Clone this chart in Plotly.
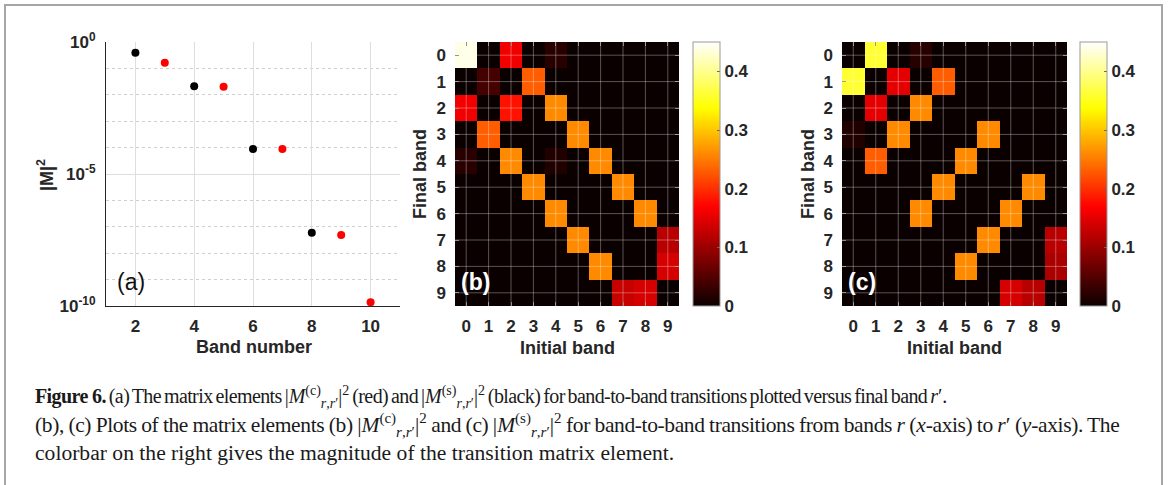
import plotly.graph_objects as go

W, H = 1168, 485

# ---- panel (a): |M|^2 versus final band ----
band_black = [2, 4, 6, 8]
m2_black = [0.39, 0.021, 8.9e-5, 5.9e-8]
band_red = [3, 5, 7, 9, 10]
m2_red = [0.165, 0.020, 8.9e-5, 4.9e-8, 1.4e-10]

# ---- panels (b), (c): transition matrices (rows = final band, cols = initial band) ----
bands = list(range(10))
m2_c = [
    [0.44, 0, 0.16, 0, 0.02, 0, 0, 0, 0, 0],
    [0, 0.04, 0, 0.23, 0, 0, 0, 0, 0, 0],
    [0.16, 0, 0.18, 0, 0.26, 0, 0, 0, 0, 0],
    [0, 0.23, 0, 0, 0, 0.26, 0, 0, 0, 0],
    [0.02, 0, 0.26, 0, 0.015, 0, 0.26, 0, 0, 0],
    [0, 0, 0, 0.26, 0, 0, 0, 0.26, 0, 0],
    [0, 0, 0, 0, 0.26, 0, 0, 0, 0.26, 0],
    [0, 0, 0, 0, 0, 0.26, 0, 0, 0, 0.12],
    [0, 0, 0, 0, 0, 0, 0.26, 0, 0, 0.14],
    [0, 0, 0, 0, 0, 0, 0, 0.13, 0.14, 0],
]
m2_s = [
    [0, 0.36, 0, 0.02, 0, 0, 0, 0, 0, 0],
    [0.36, 0, 0.15, 0, 0.23, 0, 0, 0, 0, 0],
    [0, 0.15, 0, 0.26, 0, 0, 0, 0, 0, 0],
    [0.015, 0, 0.26, 0, 0, 0, 0.26, 0, 0, 0],
    [0, 0.23, 0, 0, 0, 0.26, 0, 0, 0, 0],
    [0, 0, 0, 0, 0.26, 0, 0, 0, 0.26, 0],
    [0, 0, 0, 0.26, 0, 0, 0, 0.26, 0, 0],
    [0, 0, 0, 0, 0, 0, 0.26, 0, 0, 0.12],
    [0, 0, 0, 0, 0, 0.26, 0, 0, 0, 0.11],
    [0, 0, 0, 0, 0, 0, 0, 0.14, 0.12, 0],
]
cbar_ticks = [0, 0.1, 0.2, 0.3, 0.4]
cbar_labels = ["0", "0.1", "0.2", "0.3", "0.4"]

# MATLAB-style "hot" map
hot = [[0.0, "rgb(11,0,0)"], [0.375, "rgb(255,0,0)"],
       [0.75, "rgb(255,255,0)"], [1.0, "rgb(255,255,255)"]]

SANS = "Liberation Sans, Arial, sans-serif"
SERIF = "Liberation Serif, Times New Roman, serif"
INK = "#262626"


def px(x):
    return x / W


def py(y):
    return 1 - y / H


TOP, BOT = 42, 306
fig = go.Figure()

fig.add_trace(go.Scatter(x=band_black, y=m2_black, mode="markers",
                         marker=dict(color="black", size=8), xaxis="x", yaxis="y",
                         showlegend=False))
fig.add_trace(go.Scatter(x=band_red, y=m2_red, mode="markers",
                         marker=dict(color="#ff0000", size=8), xaxis="x", yaxis="y",
                         showlegend=False))

panels = [("x2", "y2", m2_c, 455, 679, 693, "(b)", 420, 567),
          ("x3", "y3", m2_s, 842, 1067, 1080, "(c)", 808, 954)]

tickfont = dict(family=SANS, size=17, color=INK, weight="bold")

for xa, ya, z, x0, x1, cbx, tag, ylab_x, xlab_x in panels:
    fig.add_trace(go.Heatmap(
        x=bands, y=bands, z=z, xaxis=xa, yaxis=ya,
        colorscale=hot, zmin=0, zmax=0.45,
        colorbar=dict(
            x=px(cbx), xanchor="left", xpad=0, y=py((TOP + BOT) / 2), yanchor="middle",
            ypad=0, len=(BOT - TOP) / H, lenmode="fraction", thickness=27,
            thicknessmode="pixels", outlinewidth=1, outlinecolor="#9a9a9a",
            tickvals=cbar_ticks, ticktext=cbar_labels, ticks="inside", ticklen=3,
            tickcolor="#666", tickfont=tickfont,
        ),
        hoverinfo="skip",
    ))

layout = dict(
    width=W, height=H, margin=dict(l=0, r=0, t=0, b=0, autoexpand=False),
    paper_bgcolor="white", plot_bgcolor="white",
    font=dict(family=SANS, color=INK),
    xaxis=dict(domain=[px(106), px(400)], range=[1, 11], tickvals=[2, 4, 6, 8, 10],
               showgrid=True, gridcolor="#dedede", gridwidth=1, zeroline=False,
               showline=True, linecolor=INK, linewidth=1, ticks="",
               tickfont=tickfont, ticklabelstandoff=5),
    yaxis=dict(domain=[py(BOT), py(TOP)], type="log", range=[-10, 0],
               tickvals=[1e-10, 1e-5, 1],
               ticktext=["10<sup>-10</sup>", "10<sup>-5</sup>", "10<sup>0</sup>"],
               showgrid=True, gridcolor="#dedede", gridwidth=1, zeroline=False,
               showline=True, linecolor=INK, linewidth=1, ticks="",
               tickfont=tickfont, ticklabelstandoff=6,
               minor=dict(tickvals=[10 ** (-k) for k in range(1, 10) if k != 5],
                          showgrid=True, gridcolor="#cfcfcf", griddash="dot",
                          gridwidth=1, ticks="")),
)
for i, (xa, ya, z, x0, x1, cbx, tag, ylab_x, xlab_x) in enumerate(panels):
    n = xa[1:]
    layout["xaxis" + n] = dict(domain=[px(x0), px(x1)], anchor=ya, range=[-0.5, 9.5],
                               tickvals=bands, showgrid=False, zeroline=False,
                               ticks="inside", ticklen=4, tickcolor="#777",
                               mirror="ticks", layer="above traces",
                               tickfont=tickfont, ticklabelstandoff=8)
    layout["yaxis" + n] = dict(domain=[py(BOT), py(TOP)], anchor=xa, range=[9.5, -0.5],
                               tickvals=bands, showgrid=False, zeroline=False,
                               ticks="inside", ticklen=4, tickcolor="#777",
                               mirror="ticks", layer="above traces",
                               tickfont=tickfont, ticklabelstandoff=8)
fig.update_layout(**layout)

shapes = []
# light grid over the heatmaps, through the cell centres
for xa, ya, *_ in panels:
    for k in bands:
        shapes.append(dict(type="line", xref=xa, yref=ya, x0=k, x1=k, y0=-0.5, y1=9.5,
                           line=dict(color="rgba(255,255,255,0.32)", width=1),
                           layer="above"))
        shapes.append(dict(type="line", xref=xa, yref=ya, x0=-0.5, x1=9.5, y0=k, y1=k,
                           line=dict(color="rgba(255,255,255,0.32)", width=1),
                           layer="above"))
# frame around the whole figure
shapes.append(dict(type="rect", xref="paper", yref="paper", x0=px(5), x1=px(1162),
                   y0=-0.02, y1=py(5), line=dict(color="#a6a6a6", width=2),
                   layer="below"))
fig.update_layout(shapes=shapes)

title_font = dict(family=SANS, size=18, color=INK, weight="bold")
ann = [
    dict(text="|M|<sup>2</sup>", x=px(45), y=py(175), textangle=-90, font=title_font),
    dict(text="Band number", x=px(254), y=py(347), font=title_font),
    dict(text="(a)", x=px(131), y=py(282), font=dict(family=SANS, size=23, color="#111")),
]
for xa, ya, z, x0, x1, cbx, tag, ylab_x, xlab_x in panels:
    ann.append(dict(text="Final band", x=px(ylab_x), y=py(174), textangle=-90,
                    font=title_font))
    ann.append(dict(text="Initial band", x=px(xlab_x), y=py(348), font=title_font))
    ann.append(dict(text=tag, x=px(x0 + 20), y=py(282), xanchor="center",
                    font=dict(family=SANS, size=23, color="white", weight="bold")))


def tight(s, ls, ws=0.0):
    """Plain caption text set with tighter letter / word spacing."""
    return f"<span style='letter-spacing:{ls}px;word-spacing:{ws}px'>{s}</span>"


M_c = "|<i>M</i><sup>(c)</sup><sub><i>r</i>,<i>r</i>′</sub>|<sup>2</sup>"
M_s = "|<i>M</i><sup>(s)</sup><sub><i>r</i>,<i>r</i>′</sub>|<sup>2</sup>"
l1, w1 = -0.6, -1.5
l2, w2 = -0.38, -0.5
caption = [
    ("<b>" + tight("Figure 6.", l1) + "</b>"
     + tight(" (a) The matrix elements ", l1, w1) + M_c
     + tight(" (red) and ", l1, w1) + M_s
     + tight(" (black) for band-to-band transitions plotted versus final band ", l1, w1)
     + "<i>r</i>′."),
    (tight("(b), (c) Plots of the matrix elements (b) ", l2, w2) + M_c
     + tight(" and (c) ", l2, w2) + M_s
     + tight(" for band-to-band transitions from bands ", l2, w2) + "<i>r</i>"
     + tight(" (", l2, w2) + "<i>x</i>" + tight("-axis) to ", l2, w2) + "<i>r</i>′"
     + tight(" (", l2, w2) + "<i>y</i>" + tight("-axis). The", l2, w2)),
    "colorbar on the right gives the magnitude of the transition matrix element.",
]
for yy, line, fs in zip([397, 425, 453], caption, [20, 21.5, 21.6]):
    ann.append(dict(text=line, x=px(33), y=py(yy), xanchor="left", yanchor="middle",
                    font=dict(family=SERIF, size=fs, color="#1a1a1a")))

for a in ann:
    a.setdefault("xref", "paper")
    a.setdefault("yref", "paper")
    a.setdefault("showarrow", False)
    a.setdefault("xanchor", "center")
    a.setdefault("yanchor", "middle")
fig.update_layout(annotations=ann)

fig.write_html("out.html")
